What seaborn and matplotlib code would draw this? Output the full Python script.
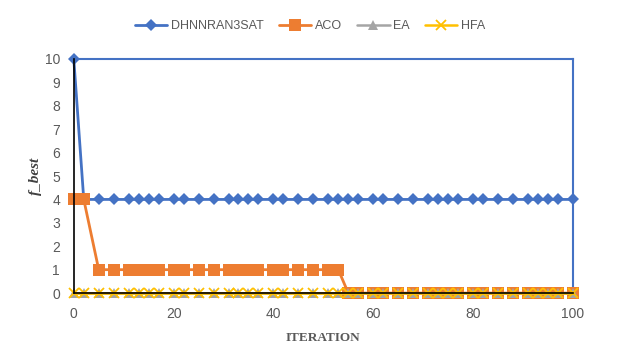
import matplotlib
matplotlib.use("Agg")
import matplotlib.pyplot as plt
import seaborn as sns
import pandas as pd

iterations = [0, 2, 5, 8, 11, 13, 15, 17, 20, 22, 25, 28, 31, 33, 35, 37, 40, 42, 45, 48,
              51, 53, 55, 57, 60, 62, 65, 68, 71, 73, 75, 77, 80, 82, 85, 88, 91, 93, 95, 97, 100]
dhnn = [10, 4, 4, 4, 4, 4, 4, 4, 4, 4, 4, 4, 4, 4, 4, 4, 4, 4, 4, 4,
        4, 4, 4, 4, 4, 4, 4, 4, 4, 4, 4, 4, 4, 4, 4, 4, 4, 4, 4, 4, 4]
aco = [4, 4, 1, 1, 1, 1, 1, 1, 1, 1, 1, 1, 1, 1, 1, 1, 1, 1, 1, 1,
       1, 1, 0, 0, 0, 0, 0, 0, 0, 0, 0, 0, 0, 0, 0, 0, 0, 0, 0, 0, 0]
ea = [0, 0, 0, 0, 0, 0, 0, 0, 0, 0, 0, 0, 0, 0, 0, 0, 0, 0, 0, 0,
      0, 0, 0, 0, 0, 0, 0, 0, 0, 0, 0, 0, 0, 0, 0, 0, 0, 0, 0, 0, 0]
hfa = [0, 0, 0, 0, 0, 0, 0, 0, 0, 0, 0, 0, 0, 0, 0, 0, 0, 0, 0, 0,
       0, 0, 0, 0, 0, 0, 0, 0, 0, 0, 0, 0, 0, 0, 0, 0, 0, 0, 0, 0, 0]
series_names = ["DHNNRAN3SAT", "ACO", "EA", "HFA"]
x_ticks = [0, 20, 40, 60, 80, 100]
y_ticks = [0, 1, 2, 3, 4, 5, 6, 7, 8, 9, 10]

colors = ["#4472C4", "#ED7D31", "#A5A5A5", "#FFC000"]
markers = ["D", "s", "^", "x"]
msizes = [6.5, 9, 7, 6.5]
lws = [2.0, 2.0, 1.8, 1.8]

sns.set_theme(style="white")
plt.rcParams["font.family"] = ["Liberation Sans", "DejaVu Sans"]

fig = plt.figure(figsize=(6.2, 3.51), dpi=100)
ax = fig.add_axes([0.119, 0.165, 0.805, 0.667])

values = [dhnn, aco, ea, hfa]
for name, vals, c, m, ms, lw in zip(series_names, values, colors, markers, msizes, lws):
    df = pd.DataFrame({"iteration": iterations, "f_best": vals})
    sns.lineplot(data=df, x="iteration", y="f_best", ax=ax, color=c, marker=m,
                 markersize=ms, markeredgecolor=c, markeredgewidth=1.3 if m == "x" else 0,
                 linewidth=lw, label=name, clip_on=False)

ax.set_xlim(0, 100)
ax.set_ylim(0, 10)
ax.set_xticks(x_ticks)
ax.set_yticks(y_ticks)
ax.set_xticklabels([str(t) for t in x_ticks])
ax.set_yticklabels([str(t) for t in y_ticks])
ax.tick_params(axis="both", colors="#595959", labelsize=10, length=0)
ax.tick_params(axis="x", pad=10)
ax.tick_params(axis="y", direction="in", length=4, color="black", width=1, pad=10)

for s in ["left", "bottom"]:
    ax.spines[s].set_color("black")
    ax.spines[s].set_linewidth(1.2)
for s in ["top", "right"]:
    ax.spines[s].set_color("#4472C4")
    ax.spines[s].set_linewidth(1.5)
    ax.spines[s].set_zorder(0.5)

ax.set_xlabel("ITERATION", family=["Liberation Serif", "DejaVu Serif"], fontweight="bold",
              fontsize=9.5, color="#595959", labelpad=8)
ax.set_ylabel("f_best", family=["Liberation Serif", "DejaVu Serif"], fontweight="bold",
              style="italic", fontsize=11, color="#404040", labelpad=2)

ax.get_legend().remove()
handles, labels = ax.get_legend_handles_labels()
fig.legend(handles, labels, loc="center", bbox_to_anchor=(0.5, 0.925), ncol=4, frameon=False,
           fontsize=9, labelcolor="#595959", handlelength=2.6, columnspacing=1.2,
           handletextpad=0.3)

fig.savefig("out.png", dpi=100)
